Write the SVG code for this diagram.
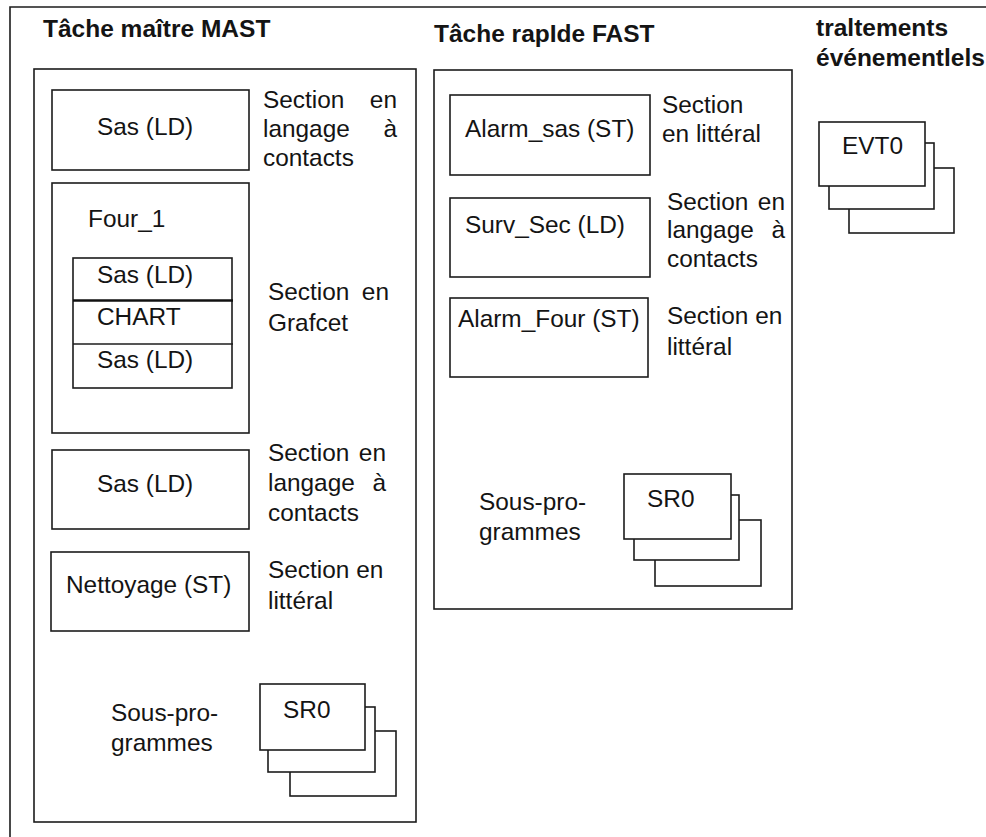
<svg xmlns="http://www.w3.org/2000/svg" width="986" height="837" viewBox="0 0 986 837">
  <style>
    .box { fill: #ffffff; stroke: #1c1c1c; stroke-width: 1.6; }
    .line { fill: none; stroke: #1c1c1c; stroke-width: 1.6; }
    .thick { fill: none; stroke: #111111; stroke-width: 2.6; }
    text { font-family: "Liberation Sans", Arial, sans-serif; font-size: 24.4px; fill: #141414; }
    .title { font-weight: bold; font-size: 24.5px; }
    .end { text-anchor: end; }
  </style>

  <rect x="0" y="0" width="986" height="837" fill="#ffffff"/>

  <!-- outer frame (continues beyond the page edges) -->
  <path class="line" d="M10,837 V7 H986"/>

  <!-- ===== Master task ===== -->
  <g id="mast">
    <text class="title" x="43" y="37">Tâche maître MAST</text>
    <rect class="box" x="34" y="69" width="382" height="753"/>
  </g>

  <g id="mast-sas-1">
    <rect class="box" x="52" y="90" width="197" height="80"/>
    <text x="97" y="135">Sas (LD)</text>
    <text x="263" y="108">Section</text>
    <text class="end" x="397" y="108">en</text>
    <text x="263" y="137">langage</text>
    <text class="end" x="397" y="137">à</text>
    <text x="263" y="166">contacts</text>
  </g>

  <g id="mast-four1">
    <rect class="box" x="52" y="183" width="197" height="250"/>
    <text x="88" y="227">Four_1</text>
    <rect class="box" x="73" y="258" width="159" height="130"/>
    <line class="thick" x1="73" y1="300.5" x2="233" y2="300.5"/>
    <line class="line" x1="73" y1="344" x2="233" y2="344"/>
    <text x="97" y="283">Sas (LD)</text>
    <text x="97" y="325">CHART</text>
    <text x="97" y="368">Sas (LD)</text>
    <text x="268" y="300">Section</text>
    <text class="end" x="389" y="300">en</text>
    <text x="268" y="331">Grafcet</text>
  </g>

  <g id="mast-sas-2">
    <rect class="box" x="52" y="450" width="197" height="79"/>
    <text x="97" y="492">Sas (LD)</text>
    <text x="268" y="461">Section</text>
    <text class="end" x="386" y="461">en</text>
    <text x="268" y="491">langage</text>
    <text class="end" x="386" y="491">à</text>
    <text x="268" y="521">contacts</text>
  </g>

  <g id="mast-nettoyage">
    <rect class="box" x="51" y="552" width="198" height="79"/>
    <text x="66" y="593">Nettoyage (ST)</text>
    <text x="268" y="578">Section en</text>
    <text x="268" y="609">littéral</text>
  </g>

  <g id="mast-sr0">
    <text x="111" y="721">Sous-pro-</text>
    <text x="111" y="751">grammes</text>
    <rect class="box" x="290" y="731" width="106" height="65"/>
    <rect class="box" x="268" y="707" width="107" height="65"/>
    <rect class="box" x="260" y="684" width="105" height="66"/>
    <text x="283" y="718">SR0</text>
  </g>

  <!-- ===== Fast task ===== -->
  <g id="fast">
    <text class="title" x="434" y="42">Tâche rapIde FAST</text>
    <rect class="box" x="434" y="70" width="358" height="539"/>
  </g>

  <g id="fast-alarm-sas">
    <rect class="box" x="450" y="95" width="200" height="80"/>
    <text x="465" y="137">Alarm_sas (ST)</text>
    <text x="662" y="113">Section</text>
    <text x="662" y="142">en littéral</text>
  </g>

  <g id="fast-surv-sec">
    <rect class="box" x="450" y="198" width="200" height="79"/>
    <text x="465" y="233">Surv_Sec (LD)</text>
    <text x="667" y="210">Section</text>
    <text class="end" x="785" y="210">en</text>
    <text x="667" y="238">langage</text>
    <text class="end" x="785" y="238">à</text>
    <text x="667" y="267">contacts</text>
  </g>

  <g id="fast-alarm-four">
    <rect class="box" x="450" y="298" width="198" height="79"/>
    <text x="458" y="327">Alarm_Four (ST)</text>
    <text x="667" y="324">Section en</text>
    <text x="667" y="355">littéral</text>
  </g>

  <g id="fast-sr0">
    <text x="479" y="510">Sous-pro-</text>
    <text x="479" y="540">grammes</text>
    <rect class="box" x="655" y="520" width="106" height="66"/>
    <rect class="box" x="634" y="495" width="105" height="65"/>
    <rect class="box" x="624" y="474" width="107" height="65"/>
    <text x="647" y="507">SR0</text>
  </g>

  <!-- ===== Event-driven processing ===== -->
  <g id="events">
    <text class="title" x="816" y="36">traltements</text>
    <text class="title" x="816" y="66">événementlels</text>
  </g>

  <g id="evt0">
    <rect class="box" x="849" y="168" width="105" height="65"/>
    <rect class="box" x="829" y="143" width="105" height="66"/>
    <rect class="box" x="819" y="122" width="106" height="64"/>
    <text x="842" y="154">EVT0</text>
  </g>
</svg>
